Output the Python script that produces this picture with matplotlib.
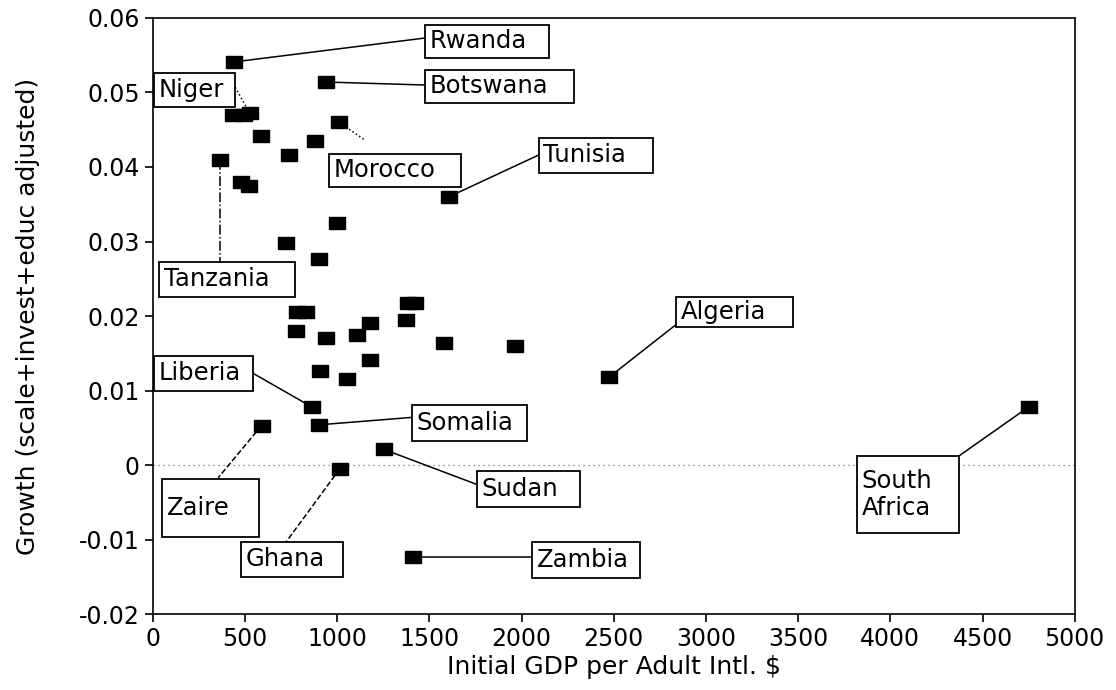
import matplotlib.pyplot as plt
from matplotlib.patches import Rectangle

# initial GDP per adult and growth (scale+invest+educ adjusted)
gdp = [441, 940, 435, 495, 525, 1010, 587, 878, 738, 363, 480, 519, 1606,
       1000, 723, 901, 781, 830, 1385, 1420, 1373, 1179, 1105, 940, 775,
       1577, 1966, 1179, 907, 1053, 2475, 862, 901, 590, 1253, 1014, 1412,
       4750]
growth = [0.0541, 0.0514, 0.0470, 0.0470, 0.0472, 0.0460, 0.0442, 0.0435,
          0.0416, 0.0409, 0.0380, 0.0375, 0.0360, 0.0325, 0.0298, 0.0277,
          0.0205, 0.0205, 0.0217, 0.0217, 0.0195, 0.0190, 0.0175, 0.0171,
          0.0180, 0.0164, 0.0160, 0.0141, 0.0126, 0.0115, 0.0118, 0.0078,
          0.0054, 0.0053, 0.0021, -0.0005, -0.0123, 0.0078]
names = ["Rwanda", "Botswana", "", "", "Niger", "Morocco", "", "", "",
         "Tanzania", "", "", "Tunisia", "", "", "", "", "", "", "", "", "",
         "", "", "", "", "", "", "", "", "Algeria", "Liberia", "Somalia",
         "Zaire", "Sudan", "Ghana", "Zambia", "South\nAfrica"]

xticks = [0, 500, 1000, 1500, 2000, 2500, 3000, 3500, 4000, 4500, 5000]
yticks = [-0.02, -0.01, 0, 0.01, 0.02, 0.03, 0.04, 0.05, 0.06]
ytick_labels = ["-0.02", "-0.01", "0", "0.01", "0.02", "0.03", "0.04", "0.05", "0.06"]

# label boxes: x0, x1, y0, y1, where the leader meets the box, line style
layout = {
    "Rwanda": (1474, 2146, 0.0546, 0.0591, 1474, 0.0573, "-"),
    "Botswana": (1474, 2286, 0.0486, 0.0530, 1474, 0.0510, "-"),
    "Niger": (8, 447, 0.0480, 0.0526, 447, 0.0507, ":"),
    "Morocco": (956, 1669, 0.0373, 0.0418, 1150, 0.0436, ":"),
    "Tanzania": (33, 771, 0.0226, 0.0273, 363, 0.0273, "-."),
    "Tunisia": (2092, 2714, 0.0392, 0.0439, 2092, 0.0416, "-"),
    "Algeria": (2836, 3471, 0.0185, 0.0225, 2830, 0.0187, "-"),
    "Liberia": (8, 544, 0.0100, 0.0146, 544, 0.0123, "-"),
    "Somalia": (1406, 2028, 0.0032, 0.0080, 1406, 0.0064, "-"),
    "Zaire": (52, 573, -0.0096, -0.0019, 354, -0.0017, "--"),
    "Sudan": (1757, 2316, -0.0056, -0.0008, 1757, -0.0026, "-"),
    "Ghana": (480, 1033, -0.0150, -0.0103, 723, -0.0103, "--"),
    "Zambia": (2059, 2642, -0.0152, -0.0103, 2059, -0.0123, "-"),
    "South\nAfrica": (3818, 4371, -0.0091, 0.0012, 4371, 0.0012, "-"),
}

plt.rcParams['font.family'] = ['DejaVu Sans']

fig = plt.figure(figsize=(11.16, 6.9), dpi=100)
ax = fig.add_axes([0.137, 0.110, 0.826, 0.864])

# dotted zero line
ax.axhline(0, color="0.45", lw=0.9, ls=(0, (1, 3)), zorder=1)

# square-ish markers, a bit wider than tall
box_marker = [(-1.25, -1), (1.25, -1), (1.25, 1), (-1.25, 1), (-1.25, -1)]
ax.plot(gdp, growth, ls="none", marker=box_marker, ms=11, color="black", zorder=3)

for x, y, name in zip(gdp, growth, names):
    if not name:
        continue
    x0, x1, y0, y1, lx, ly, ls = layout[name]
    ax.plot([x, lx], [y, ly], color="black", lw=1.1, ls=ls, zorder=2)
    ax.add_patch(Rectangle((x0, y0), x1 - x0, y1 - y0, facecolor="white",
                           edgecolor="black", lw=1.3, zorder=4))
    ax.text(x0 + 25, (y0 + y1) / 2, name, ha="left", va="center",
            fontsize=17.5, linespacing=1.2, zorder=5)

ax.set_xlim(0, 5000)
ax.set_ylim(-0.02, 0.06)
ax.set_xticks(xticks)
ax.set_xticklabels([str(t) for t in xticks])
ax.set_yticks(yticks)
ax.set_yticklabels(ytick_labels)
ax.tick_params(labelsize=17, direction="out", length=6, width=1.2)
for s in ax.spines.values():
    s.set_linewidth(1.2)

ax.set_xlabel("Initial GDP per Adult Intl. $", fontsize=18, labelpad=3)
ax.set_ylabel("Growth (scale+invest+educ adjusted)", fontsize=18, labelpad=28)

fig.savefig("out.png", dpi=100)
